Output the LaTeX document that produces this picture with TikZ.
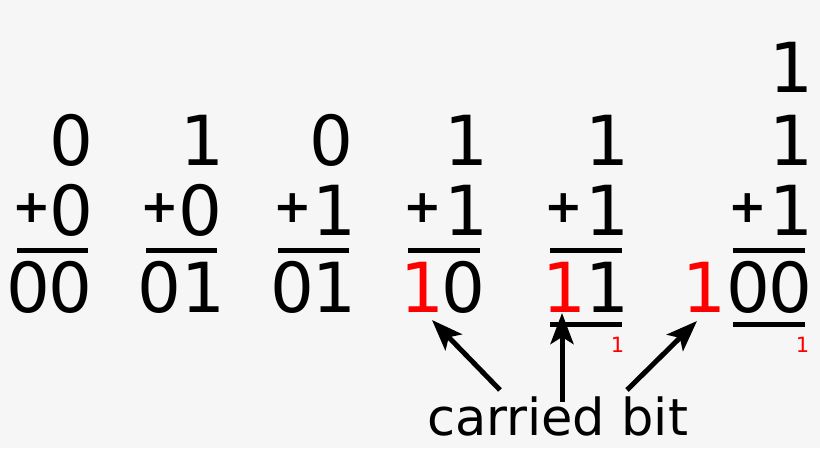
\documentclass[tikz,border=0pt]{standalone}
\usepackage{fontspec}
\newfontfamily\digitfont{DejaVu Sans}
\newfontfamily\plusfont{DejaVu Sans Bold}
\newfontfamily\labelfont{DejaVu Sans}
\usetikzlibrary{arrows.meta,calc}
\definecolor{bg}{RGB}{246,246,246}
\definecolor{carry}{RGB}{255,0,0}
\newcommand{\plussign}{\makebox[24pt]{+}}
\begin{document}
\begin{tikzpicture}[x=1pt,y=-1pt,
  dig/.style={inner sep=0pt,outer sep=0pt,anchor=base,font=\digitfont\fontsize{69}{69}\selectfont},
  cdig/.style={dig,text=carry},
  plus/.style={inner sep=0pt,outer sep=0pt,anchor=center,font=\plusfont\fontsize{46}{46}\selectfont},
  small/.style={inner sep=0pt,outer sep=0pt,anchor=base,text=carry,font=\digitfont\fontsize{21}{21}\selectfont},
  rule/.style={line width=5pt},
  arr/.style={line width=5pt,-{Stealth[length=31pt,width=23pt,inset=7pt]}}]
\fill[bg] (0,0) rectangle (820,448);
\useasboundingbox (0,0) rectangle (820,448);
% column 1 : 0 + 0 = 00
\node[dig] (a1) at (71,165) {0};
\node[plus] (p1) at (31.5,208) {\plussign};
\node[dig] (b1) at (71,235) {0};
\node[dig] (l1) at (28.5,312) {0};
\node[dig] (r1) at (70.5,312) {0};
% column 2 : 1 + 0 = 01
\node[dig] (a2) at (202.5,165) {1};
\node[plus] (p2) at (159.5,208) {\plussign};
\node[dig] (b2) at (200,235) {0};
\node[dig] (l2) at (159,312) {0};
\node[dig] (r2) at (203,312) {1};
% column 3 : 0 + 1 = 01
\node[dig] (a3) at (331.5,165) {0};
\node[plus] (p3) at (292.5,208) {\plussign};
\node[dig] (b3) at (334,235) {1};
\node[dig] (l3) at (292,312) {0};
\node[dig] (r3) at (334,312) {1};
% column 4 : 1 + 1 = 10
\node[dig] (a4) at (466,165) {1};
\node[plus] (p4) at (422.5,208) {\plussign};
\node[dig] (b4) at (466,235) {1};
\node[cdig] (l4) at (422.5,312) {1};
\node[dig] (r4) at (463.5,312) {0};
% column 5 : 1 + 1 = 11, carry 1
\node[dig] (a5) at (607.5,165) {1};
\node[plus] (p5) at (564,208) {\plussign};
\node[dig] (b5) at (607.5,235) {1};
\node[cdig] (l5) at (564,312) {1};
\node[dig] (r5) at (607.5,312) {1};
\node[small] (k5) at (617.5,352) {1};
% column 6 : 1 + 1 + 1 = 100, carry 1
\node[dig] (z6) at (791.5,92) {1};
\node[dig] (a6) at (791.5,165) {1};
\node[plus] (p6) at (748,208) {\plussign};
\node[dig] (b6) at (791.5,235) {1};
\node[cdig] (c6) at (704,312) {1};
\node[dig] (l6) at (748,312) {0};
\node[dig] (r6) at (790,312) {0};
\node[small] (k6) at (802.5,352) {1};
% sum rules
\draw[rule] (17,250.5) -- (88,250.5);
\draw[rule] (146,250.5) -- (217,250.5);
\draw[rule] (278,250.5) -- (349,250.5);
\draw[rule] (408,250.5) -- (480,250.5);
\draw[rule] (550,250.5) -- (622,250.5);
\draw[rule] (733,250.5) -- (805,250.5);
% carry rules
\draw[rule] (550,324.5) -- (622,324.5);
\draw[rule] (733,324.5) -- (805,324.5);
% label and arrows
\node[inner sep=0pt,outer sep=0pt,anchor=base west,font=\labelfont\fontsize{51}{51}\selectfont] (lab) at (427,435) {carried bit};
\coordinate (f1) at (500,390);
\coordinate (f2) at (562,402);
\coordinate (f3) at (627,390);
\coordinate (t1) at (432,320);
\coordinate (t2) at (562,313);
\coordinate (t3) at (697,321);
\draw[arr] (f1) -- (t1);
\draw[arr] (f2) -- (t2);
\draw[arr] (f3) -- (t3);
\end{tikzpicture}
\end{document}
